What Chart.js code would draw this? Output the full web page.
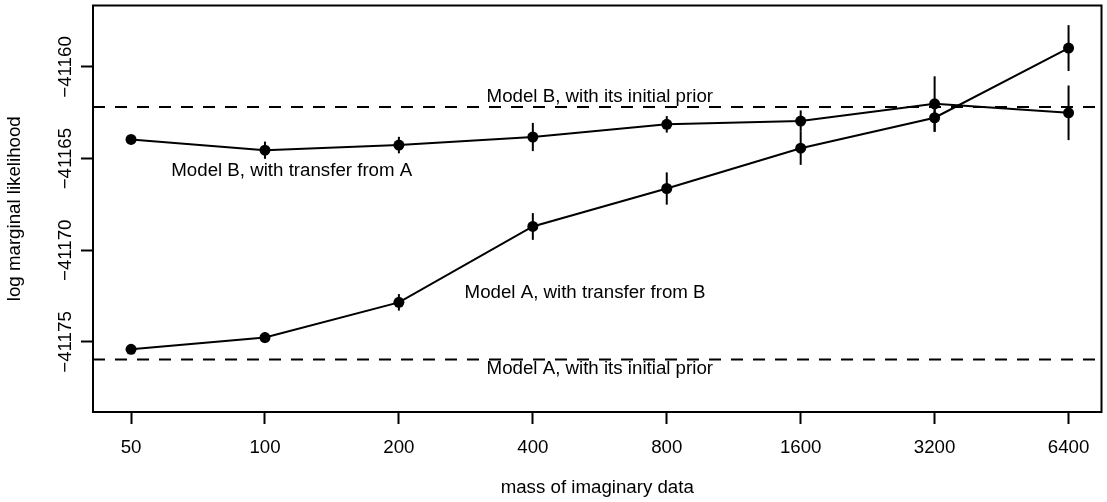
<!DOCTYPE html>
<html>
<head>
<meta charset="utf-8">
<script src="https://cdn.jsdelivr.net/npm/chart.js@4"></script>
<style>
  body { margin: 0; background: #fff; }
  #wrap { width: 1107px; height: 502px; }
</style>
</head>
<body>
<div id="wrap"><canvas id="graficoMassa"></canvas></div>
<script>
// eixo x: massa dos dados imaginarios (posicoes igualmente espacadas)
const massLabels = ['50', '100', '200', '400', '800', '1600', '3200', '6400'];
const yTicks = [-41175, -41170, -41165, -41160];

// Model A, with transfer from B
const modelA = [-41175.40, -41174.76, -41172.84, -41168.70, -41166.63, -41164.43, -41162.77, -41158.97];
const modelAErr = [0.20, 0.30, 0.45, 0.73, 0.88, 0.91, 0.78, 1.25];

// Model B, with transfer from A
const modelB = [-41163.95, -41164.54, -41164.26, -41163.82, -41163.13, -41162.95, -41162.01, -41162.50];
const modelBErr = [0.20, 0.47, 0.45, 0.77, 0.45, 0.58, 1.50, 1.49];

// priors iniciais (linhas tracejadas)
const priorA = -41175.96;
const priorB = -41162.19;

// textos no grafico
const notes = ['Model B, with its initial prior', 'Model A, with its initial prior',
  'Model B, with transfer from A', 'Model A, with transfer from B'];
const notesX = [3.5, 3.5, 1.2, 3.39];
const notesY = [-41161.65, -41176.48, -41165.67, -41172.30];

const FONT = 18.7;
Chart.defaults.font.family = '"Liberation Sans", Arial, Helvetica, sans-serif';
Chart.defaults.font.size = FONT;
Chart.defaults.color = '#000';

const rPlot = {
  id: 'rPlot',
  beforeDatasetsDraw(chart) {
    const { ctx, chartArea: a, scales: { x, y } } = chart;
    ctx.save();
    ctx.strokeStyle = '#000';
    ctx.lineWidth = 2;
    ctx.setLineDash([12, 10]);
    [priorA, priorB].forEach(v => {
      const py = y.getPixelForValue(v);
      ctx.beginPath();
      ctx.moveTo(a.left, py);
      ctx.lineTo(a.right, py);
      ctx.stroke();
    });
    ctx.setLineDash([]);
    // barras de erro
    [[modelA, modelAErr], [modelB, modelBErr]].forEach(([vals, errs]) => {
      vals.forEach((v, i) => {
        const px = x.getPixelForValue(i);
        ctx.beginPath();
        ctx.moveTo(px, y.getPixelForValue(v - errs[i]));
        ctx.lineTo(px, y.getPixelForValue(v + errs[i]));
        ctx.stroke();
      });
    });
    ctx.restore();
  },
  afterDatasetsDraw(chart) {
    const { ctx, chartArea: a, scales: { x, y } } = chart;
    ctx.save();
    ctx.fillStyle = '#000';
    ctx.font = FONT + 'px "Liberation Sans", Arial, sans-serif';
    ctx.textAlign = 'center';
    ctx.textBaseline = 'middle';
    notes.forEach((t, i) => {
      ctx.fillText(t, x.getPixelForValue(notesX[i]), y.getPixelForValue(notesY[i]));
    });
    ctx.strokeStyle = '#000';
    ctx.lineWidth = 2;
    ctx.strokeRect(a.left, a.top, a.right - a.left, a.bottom - a.top);
    ctx.restore();
  }
};

const ctx = document.getElementById('graficoMassa').getContext('2d');

new Chart(ctx, {
  type: 'line',
  data: {
    datasets: [{
      label: 'Model A, with transfer from B',
      data: modelA.map((v, i) => ({ x: i, y: v })),
      borderColor: '#000',
      backgroundColor: '#000',
      borderWidth: 2,
      pointRadius: 5.5,
      pointBorderWidth: 0,
      tension: 0
    }, {
      label: 'Model B, with transfer from A',
      data: modelB.map((v, i) => ({ x: i, y: v })),
      borderColor: '#000',
      backgroundColor: '#000',
      borderWidth: 2,
      pointRadius: 5.5,
      pointBorderWidth: 0,
      tension: 0
    }]
  },
  options: {
    responsive: true,
    maintainAspectRatio: false,
    animation: false,
    layout: { padding: { top: 4, right: 5, left: 0, bottom: 0 } },
    plugins: {
      legend: { display: false },
      tooltip: { enabled: false }
    },
    scales: {
      x: {
        type: 'linear',
        min: -0.284,
        max: 7.246,
        afterBuildTicks: scale => { scale.ticks = massLabels.map((m, i) => ({ value: i })); },
        afterFit: scale => { scale.height = 90; },
        ticks: {
          callback: (value) => massLabels[value] ?? '',
          padding: 13,
          maxRotation: 0,
          autoSkip: false
        },
        grid: { drawOnChartArea: false, drawTicks: true, tickLength: 12, tickColor: '#000', tickWidth: 2 },
        border: { display: false },
        title: { display: true, text: 'mass of imaginary data', padding: { top: 0, bottom: 3 } }
      },
      y: {
        min: -41178.821,
        max: -41156.647,
        afterBuildTicks: scale => { scale.ticks = yTicks.map(v => ({ value: v })); },
        afterFit: scale => { scale.width = 93; },
        ticks: {
          callback: value => String(value).replace('-', '\u2212'),
          minRotation: 90,
          maxRotation: 90,
          crossAlign: 'center',
          padding: -16
        },
        grid: { drawOnChartArea: false, drawTicks: true, tickLength: 12, tickColor: '#000', tickWidth: 2 },
        border: { display: false },
        title: { display: true, text: 'log marginal likelihood', padding: { top: 4, bottom: 0 } }
      }
    }
  },
  plugins: [rPlot]
});
</script>
</body>
</html>
